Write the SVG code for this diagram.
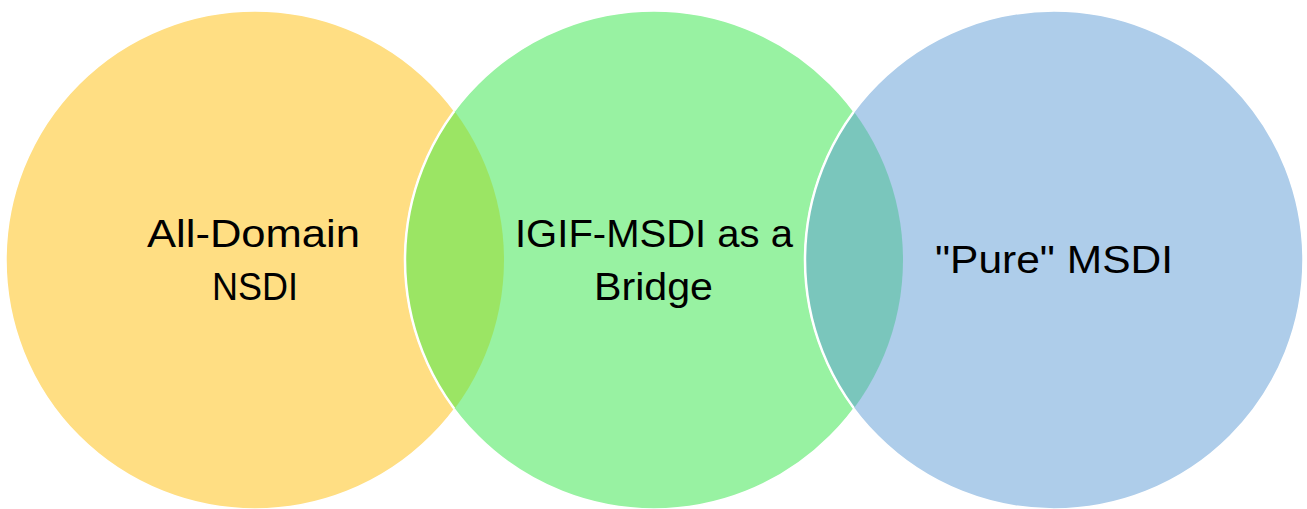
<svg xmlns="http://www.w3.org/2000/svg" width="1307" height="509" viewBox="0 0 1307 509">
<style>
.lbl{font-family:"Liberation Sans",Arial,sans-serif;font-size:38px;fill:#000;}
.edge{stroke:#fff;stroke-width:1.5;}
</style>
<defs>
<clipPath id="cY"><circle cx="255" cy="260" r="249"/></clipPath>
<clipPath id="cG"><circle cx="654" cy="260" r="249"/></clipPath>
<clipPath id="cB"><circle cx="1054" cy="260" r="249"/></clipPath>
</defs>
<rect width="1307" height="509" fill="#fff"/>
<g id="node-all-domain">
<circle class="edge" cx="255" cy="260" r="249" fill="#FFDE83"/>
</g>
<g id="node-igif">
<circle class="edge" cx="654" cy="260" r="249" fill="#98F2A2"/>
</g>
<g id="node-pure">
<circle class="edge" cx="1054" cy="260" r="249" fill="#AECDEA"/>
</g>
<g id="overlaps">
<circle cx="255" cy="260" r="249" fill="#9BE564" clip-path="url(#cG)"/>
<circle cx="654" cy="260" r="249" fill="none" stroke="#fff" stroke-width="2.5" clip-path="url(#cY)"/>
<circle cx="654" cy="260" r="249" fill="#7AC6BC" clip-path="url(#cB)"/>
<circle cx="1054" cy="260" r="249" fill="none" stroke="#fff" stroke-width="2.5" clip-path="url(#cG)"/>
</g>
<g id="labels">
<text class="lbl" x="253.5" y="247" text-anchor="middle" textLength="213" lengthAdjust="spacingAndGlyphs">All-Domain</text>
<text class="lbl" x="255" y="300" text-anchor="middle" textLength="86" lengthAdjust="spacingAndGlyphs">NSDI</text>
<text class="lbl" x="654" y="247" text-anchor="middle" textLength="278" lengthAdjust="spacingAndGlyphs">IGIF-MSDI as a</text>
<text class="lbl" x="653.5" y="300" text-anchor="middle" textLength="119" lengthAdjust="spacingAndGlyphs">Bridge</text>
<text class="lbl" x="1054" y="273" text-anchor="middle" textLength="238" lengthAdjust="spacingAndGlyphs">"Pure" MSDI</text>
</g>
<g id="connectors"/>
</svg>
